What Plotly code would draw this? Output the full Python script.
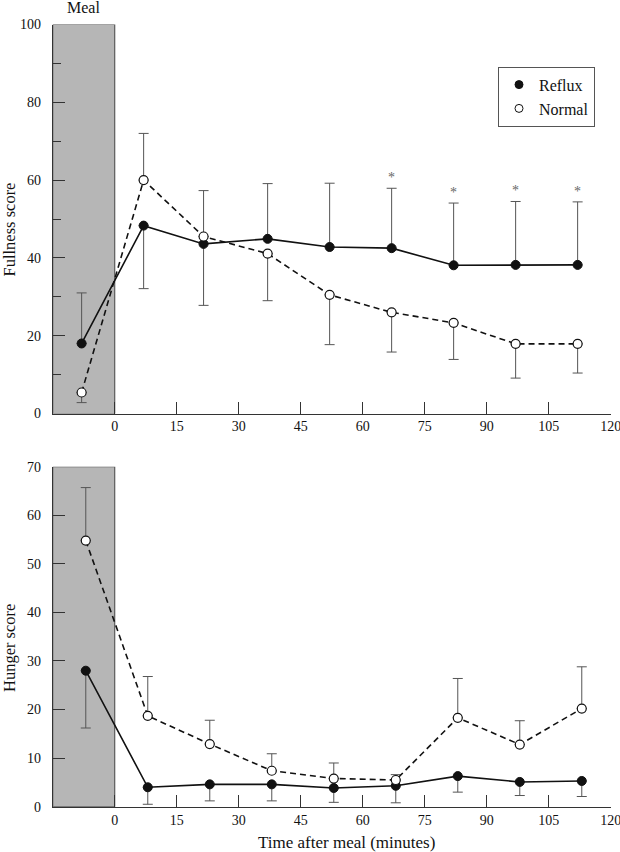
import plotly.graph_objects as go

# ---------------- data ----------------
# Fullness (top panel)
full_time = [-8, 7, 21.5, 37, 52, 67, 82, 97, 112]
full_reflux = [18, 48.3, 43.6, 44.9, 42.8, 42.5, 38.1, 38.2, 38.2]
full_reflux_err_up = [13, 0, 0, 14.2, 16.4, 15.4, 16.0, 16.3, 16.2]
full_reflux_err_down = [0, 16.2, 15.8, 0, 0, 0, 0, 0, 0]
full_normal = [5.4, 60, 45.5, 41.1, 30.5, 26.0, 23.3, 17.9, 17.9]
full_normal_err_up = [0, 12, 11.8, 0, 0, 0, 0, 0, 0]
full_normal_err_down = [2.6, 0, 0, 12.1, 12.8, 10.2, 9.4, 8.8, 7.5]
signif = [False, False, False, False, False, True, True, True, True]

# Hunger (bottom panel)
hung_time = [-7, 8, 23, 38, 53, 68, 83, 98, 113]
hung_reflux = [28, 4.0, 4.6, 4.6, 3.85, 4.3, 6.3, 5.1, 5.3]
hung_reflux_err_down = [11.8, 3.5, 3.4, 3.4, 2.95, 3.5, 3.3, 2.8, 3.2]
hung_normal = [54.8, 18.7, 12.9, 7.4, 5.8, 5.5, 18.3, 12.8, 20.2]
hung_normal_err_up = [10.9, 8.1, 4.9, 3.5, 3.2, 1.1, 8.1, 4.9, 8.6]

x_ticks = [0, 15, 30, 45, 60, 75, 90, 105, 120]
meal_window = [-15, 0]

# ---------------- style ----------------
FONT = "Liberation Serif, Times New Roman, serif"
INK = "#111111"
ERR = "#555555"
zeros = [0] * len(full_time)
MS = 9


def err(up, down):
    return dict(type="data", symmetric=False, array=up, arrayminus=down,
                color=ERR, thickness=1, width=5)


fig = go.Figure()

# Top panel
fig.add_trace(go.Scatter(
    x=full_time, y=full_reflux, mode="lines+markers", name="Reflux",
    line=dict(color=INK, width=1.6),
    marker=dict(symbol="circle", size=MS, color=INK, line=dict(color=INK, width=1)),
    error_y=err(full_reflux_err_up, full_reflux_err_down),
    xaxis="x", yaxis="y", showlegend=False))
fig.add_trace(go.Scatter(
    x=full_time, y=full_normal, mode="lines+markers", name="Normal",
    line=dict(color=INK, width=1.6, dash="6px,4px"),
    marker=dict(symbol="circle", size=MS, color="white", line=dict(color=INK, width=1.2)),
    error_y=err(full_normal_err_up, full_normal_err_down),
    xaxis="x", yaxis="y", showlegend=False))

# Bottom panel
fig.add_trace(go.Scatter(
    x=hung_time, y=hung_reflux, mode="lines+markers", name="Reflux",
    line=dict(color=INK, width=1.6),
    marker=dict(symbol="circle", size=MS, color=INK, line=dict(color=INK, width=1)),
    error_y=err(zeros, hung_reflux_err_down),
    xaxis="x2", yaxis="y2", showlegend=False))
fig.add_trace(go.Scatter(
    x=hung_time, y=hung_normal, mode="lines+markers", name="Normal",
    line=dict(color=INK, width=1.6, dash="6px,4px"),
    marker=dict(symbol="circle", size=MS, color="white", line=dict(color=INK, width=1.2)),
    error_y=err(hung_normal_err_up, zeros),
    xaxis="x2", yaxis="y2", showlegend=False))

# Legend-only entries (markers only, as in the original key)
fig.add_trace(go.Scatter(x=[None], y=[None], mode="markers", name="Reflux",
                         marker=dict(size=8, color=INK, line=dict(color=INK, width=1)),
                         xaxis="x", yaxis="y"))
fig.add_trace(go.Scatter(x=[None], y=[None], mode="markers", name="Normal",
                         marker=dict(size=8, color="white", line=dict(color=INK, width=1)),
                         xaxis="x", yaxis="y"))

# Significance asterisks above the reflux error bars
annotations = []
for t, v, e, s in zip(full_time, full_reflux, full_reflux_err_up, signif):
    if s:
        annotations.append(dict(x=t, y=v + e, xref="x", yref="y", text="*",
                                showarrow=False, yanchor="bottom", yshift=1,
                                font=dict(family=FONT, size=14, color="#666666")))

annotations += [
    dict(x=sum(meal_window) / 2, xref="x", y=1, yref="paper", text="Meal",
         showarrow=False, yanchor="top", xanchor="center", yshift=3,
         font=dict(family=FONT, size=16, color=INK)),
    dict(x=9 / 620, y=1 - 229.5 / 852, xref="paper", yref="paper", text="Fullness score",
         textangle=-90, showarrow=False, xanchor="center", yanchor="middle",
         font=dict(family=FONT, size=16.5, color=INK)),
    dict(x=9 / 620, y=1 - 648 / 852, xref="paper", yref="paper", text="Hunger score",
         textangle=-90, showarrow=False, xanchor="center", yanchor="middle",
         font=dict(family=FONT, size=16.5, color=INK)),
    dict(x=346 / 620, y=1 - 842 / 852, xref="paper", yref="paper",
         text="Time after meal (minutes)", showarrow=False,
         xanchor="center", yanchor="middle",
         font=dict(family=FONT, size=17, color=INK)),
]

shapes = [
    dict(type="rect", xref="x", yref="y", x0=meal_window[0], x1=meal_window[1], y0=0, y1=100,
         fillcolor="#b6b6b6", line=dict(color="#5a5a5a", width=1.2), layer="below"),
    dict(type="rect", xref="x2", yref="y2", x0=meal_window[0], x1=meal_window[1], y0=0, y1=70,
         fillcolor="#b6b6b6", line=dict(color="#5a5a5a", width=1.2), layer="below"),
]

xdom = [52.7 / 620, 610.7 / 620]
top_dom = [1 - 413.5 / 852, 1 - 24.5 / 852]
bot_dom = [1 - 806.7 / 852, 1 - 466.7 / 852]

tickfont = dict(family=FONT, size=14, color=INK)
common_x = dict(range=[-15, 120], tickvals=x_ticks, tickmode="array",
                ticks="inside", ticklen=12, ticklabeloverflow="allow",
                tickcolor="#333333", showline=True, linecolor="#333333", linewidth=1,
                showgrid=False, zeroline=False, tickfont=tickfont, domain=xdom,
                automargin=False)
common_y = dict(ticks="inside", ticklen=12, tickcolor="#333333", showline=True,
                linecolor="#333333", linewidth=1, showgrid=False, zeroline=False,
                tickfont=tickfont, automargin=False, ticklabelstandoff=8)

fig.update_layout(
    width=620, height=852,
    margin=dict(l=0, r=0, t=0, b=0),
    paper_bgcolor="white", plot_bgcolor="white",
    font=dict(family=FONT, color=INK),
    xaxis=dict(**common_x, anchor="y"),
    yaxis=dict(**common_y, range=[0, 100], tickvals=[0, 20, 40, 60, 80, 100],
               minor=dict(tickvals=[10, 30, 50, 70, 90], ticks="inside", ticklen=8,
                          tickcolor="#333333"),
               domain=top_dom, anchor="x"),
    xaxis2=dict(**common_x, anchor="y2"),
    yaxis2=dict(**common_y, range=[0, 70], tickvals=[0, 10, 20, 30, 40, 50, 60, 70],
                domain=bot_dom, anchor="x2"),
    legend=dict(x=498 / 620, y=1 - 66.7 / 852, xanchor="left", yanchor="top",
                bordercolor="#555555", borderwidth=1, bgcolor="white",
                font=dict(family=FONT, size=16, color=INK), tracegroupgap=0,
                itemwidth=30),
    shapes=shapes,
    annotations=annotations,
)

fig.write_html("out.html", config={"displayModeBar": False},
               post_script="document.body.style.margin='0';document.body.style.padding='0';")
